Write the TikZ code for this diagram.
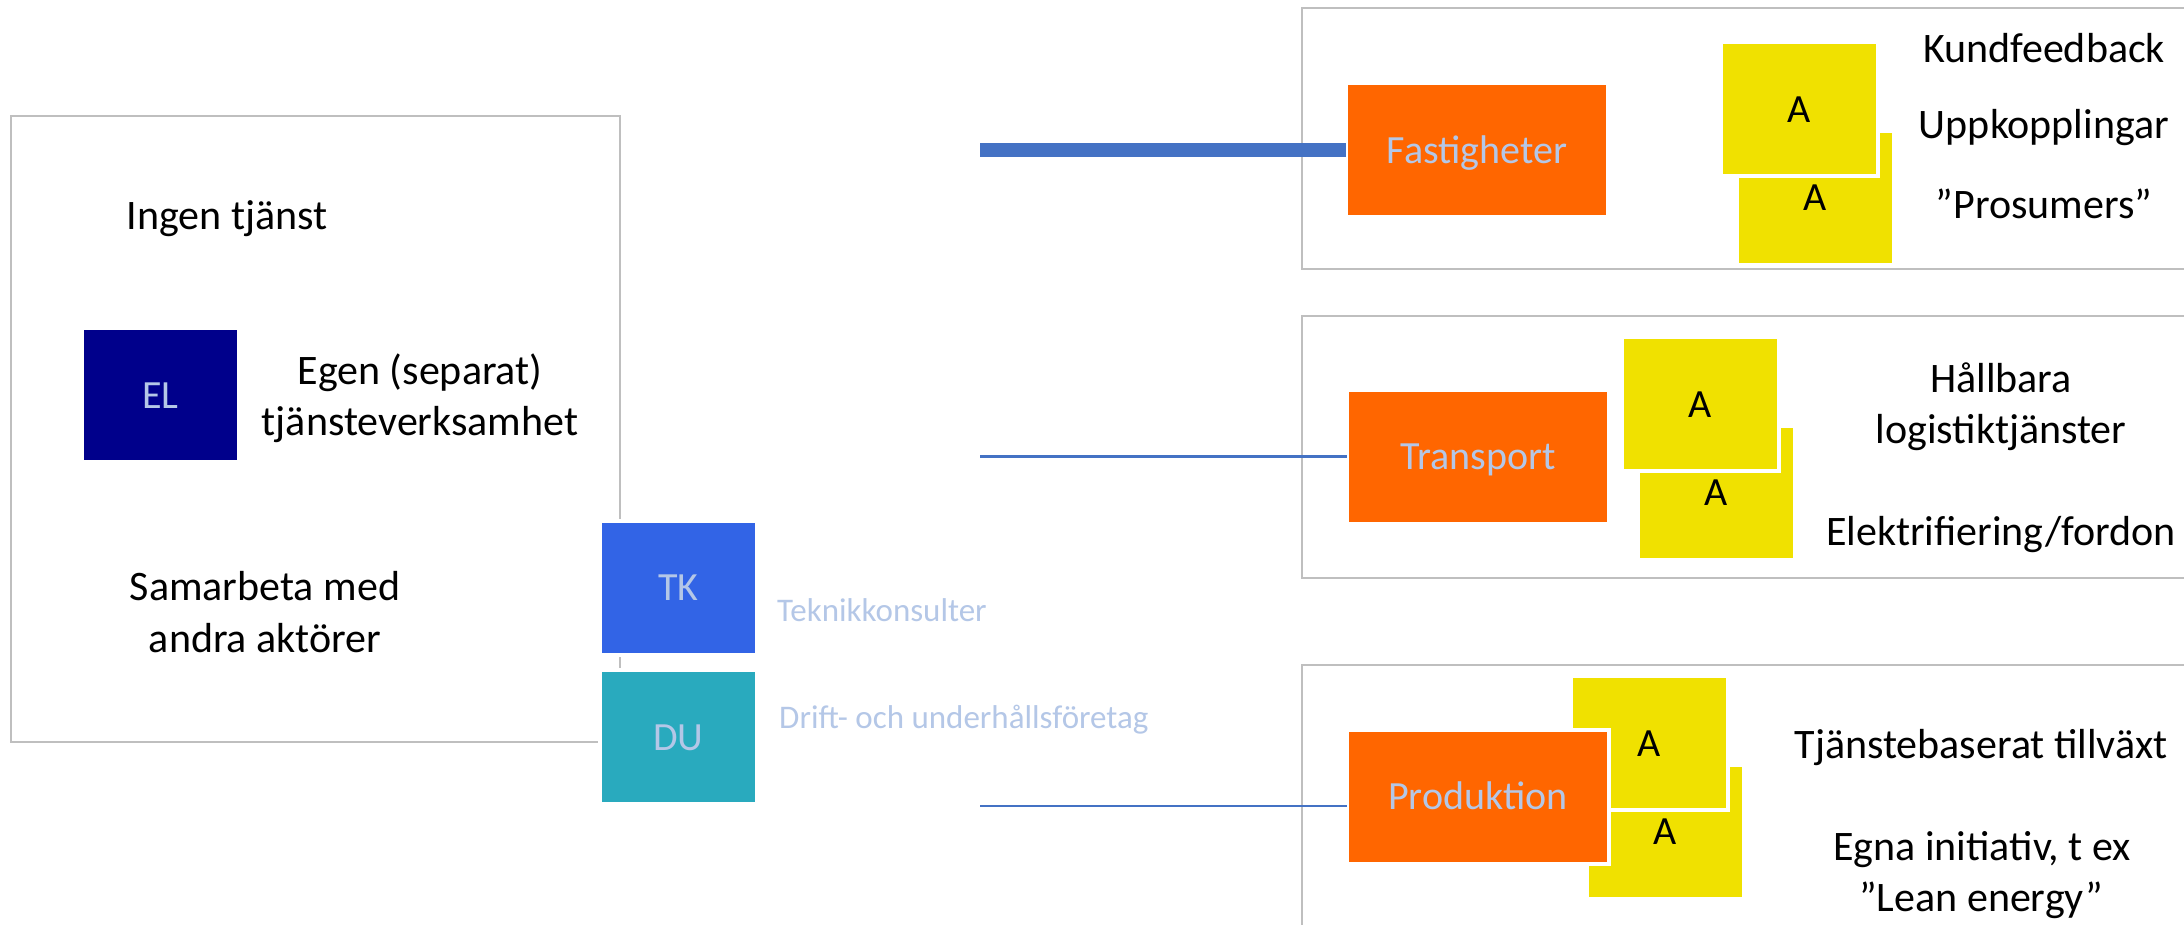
\documentclass[tikz,border=0pt]{standalone}
\usepackage{fontspec}
\setmainfont{Carlito}
\definecolor{framegray}{HTML}{BFBFBF}
\definecolor{navyel}{HTML}{00008B}
\definecolor{tkblue}{HTML}{3264E6}
\definecolor{duteal}{HTML}{29AABE}
\definecolor{sectorange}{HTML}{FF6600}
\definecolor{ayellow}{HTML}{F0E100}
\definecolor{linkblue}{HTML}{4472C4}
\definecolor{palelabel}{HTML}{B4C7E7}
\begin{document}
\begin{tikzpicture}[x=1pt,y=-1pt,
  frame/.style={draw=framegray, line width=2pt},
  tile/.style={rectangle, inner sep=0pt, minimum width=153pt, minimum height=130pt,
    text height=26pt, text depth=0pt, font=\fontsize{40}{48}\selectfont,
    preaction={draw=white, line width=8pt}},
  coltile/.style={tile, text=palelabel},
  atile/.style={tile, fill=ayellow, text=black},
  sector/.style={tile, minimum width=258pt, fill=sectorange, text=palelabel},
  lbl/.style={anchor=base, inner sep=0pt, font=\fontsize{42}{50}\selectfont},
  note/.style={anchor=base west, inner sep=0pt, text=palelabel, font=\fontsize{33}{40}\selectfont},
  thicklink/.style={draw=linkblue, line width=14pt, shorten >=2pt},
  thinlink/.style={draw=linkblue, line width=2.5pt, shorten >=2pt}]
\clip (0,0) rectangle (2184,924);
\fill[white] (0,0) rectangle (2184,924);

% frames
\draw[frame] (11,116) rectangle (620,742);
\draw[frame] (1302,8) rectangle (2200,269);
\draw[frame] (1302,316) rectangle (2200,578);
\draw[frame] (1302,665) rectangle (2200,940);

% left column
\node[lbl] (ingen) at (227,229) {Ingen tjänst};
\node[coltile, fill=navyel] (el) at (160.5,395) {EL};
\node[lbl] (egen1) at (420,384) {Egen (separat)};
\node[lbl] (egen2) at (420,435) {tjänsteverksamhet};
\node[lbl] (sam1) at (265,600) {Samarbeta med};
\node[lbl] (sam2) at (265,652) {andra aktörer};
\node[coltile, fill=tkblue] (tk) at (678.5,587.5) {TK};
\node[coltile, fill=duteal] (du) at (678.5,737) {DU};
\node[note] (tknote) at (777,621) {Teknikkonsulter};
\node[note] (dunote) at (779,728) {Drift- och underhållsföretag};

% A tiles (lower one first, upper one on top)
\node[atile] (fa2) at (1815,197.5) {A};
\node[atile] (fa1) at (1799.5,109) {A};
\node[atile] (ta2) at (1716,492.5) {A};
\node[atile] (ta1) at (1700.5,404) {A};
\node[atile] (pa2) at (1665,831.5) {A};
\node[atile] (pa1) at (1649,743) {A};

% sectors
\node[sector] (fast) at (1477,150) {Fastigheter};
\node[sector] (trans) at (1478,456.5) {Transport};
\node[sector] (prod) at (1478,796.5) {Produktion};

% connectors
\coordinate (f0) at (980,150);
\coordinate (t0) at (980,456.5);
\coordinate (p0) at (980,806);
\draw[thicklink] (f0) -- (fast);
\draw[thinlink] (t0) -- (trans);
\draw[thinlink] (p0) -- (p0 -| prod.west);

% sector texts
\node[lbl] (kund) at (2044,62) {Kundfeedback};
\node[lbl] (upp) at (2044,138) {Uppkopplingar};
\node[lbl] (pros) at (2044,218) {”Prosumers”};
\node[lbl] (hall1) at (2001,392) {Hållbara};
\node[lbl] (hall2) at (2001,443) {logistiktjänster};
\node[lbl] (elek) at (2001,545) {Elektrifiering/fordon};
\node[lbl] (tjb) at (1981,758) {Tjänstebaserat tillväxt};
\node[lbl] (egna1) at (1982,860) {Egna initiativ, t ex};
\node[lbl] (egna2) at (1981,911) {”Lean energy”};
\end{tikzpicture}
\end{document}
